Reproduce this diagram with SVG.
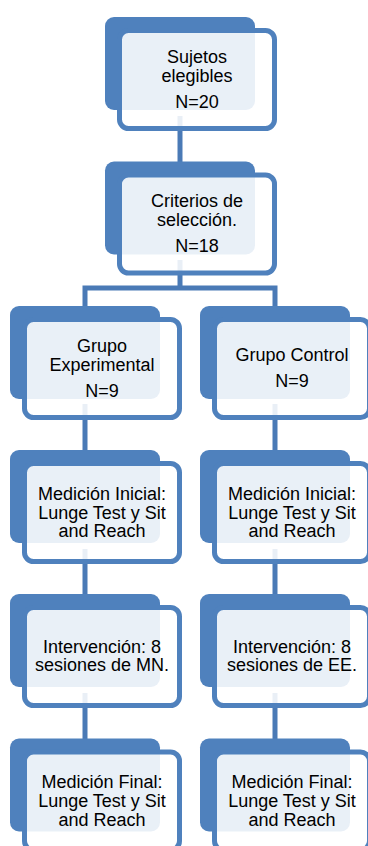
<svg xmlns="http://www.w3.org/2000/svg" width="368" height="846" viewBox="0 0 368 846">
  <style>
    .back { fill: #4f81bd; }
    .front { fill: #ffffff; fill-opacity: 0.88; stroke: #4f81bd; stroke-width: 5; }
    .link { fill: none; stroke: #4a7ab6; stroke-width: 5; stroke-linejoin: miter; }
    text { font-family: "Liberation Sans", Arial, sans-serif; font-size: 18px; fill: #000; text-anchor: middle; }
  </style>
  <rect width="368" height="846" fill="#ffffff"/>

  <!-- connectors -->
  <g id="connectors">
    <path class="link" d="M180 116 V162"/>
    <path class="link" d="M180 260 V288 M85 306 V288 H275 V306"/>
    <path class="link" d="M85 404 V450 M275 404 V450"/>
    <path class="link" d="M85 549 V594 M275 549 V594"/>
    <path class="link" d="M85 693 V739 M275 693 V739"/>
  </g>

  <!-- top column -->
  <g id="sujetos">
    <rect class="back" x="105" y="17" width="150" height="93" rx="9"/>
    <rect class="front" x="119.5" y="30.5" width="155" height="98" rx="9"/>
    <text x="197" y="63.3">Sujetos</text>
    <text x="197" y="81.7">elegibles</text>
    <text x="197" y="108.3">N=20</text>
  </g>
  <g id="criterios">
    <rect class="back" x="105" y="161.5" width="150" height="93" rx="9"/>
    <rect class="front" x="119.5" y="175" width="155" height="98" rx="9"/>
    <text x="197" y="207.3">Criterios de</text>
    <text x="197" y="226">selección.</text>
    <text x="197" y="251.7">N=18</text>
  </g>

  <!-- left column -->
  <g id="grupo-experimental">
    <rect class="back" x="10" y="306" width="150" height="93" rx="9"/>
    <rect class="front" x="24.5" y="319.5" width="155" height="98" rx="9"/>
    <text x="102" y="351.7">Grupo</text>
    <text x="102" y="370.7">Experimental</text>
    <text x="102" y="397.3">N=9</text>
  </g>
  <g id="medicion-inicial-exp">
    <rect class="back" x="10" y="450" width="150" height="93" rx="9"/>
    <rect class="front" x="24.5" y="463.5" width="155" height="98" rx="9"/>
    <text x="102" y="500">Medición Inicial:</text>
    <text x="102" y="518.7">Lunge Test y Sit</text>
    <text x="102" y="537.3">and Reach</text>
  </g>
  <g id="intervencion-exp">
    <rect class="back" x="10" y="594" width="150" height="93" rx="9"/>
    <rect class="front" x="24.5" y="607.5" width="155" height="98" rx="9"/>
    <text x="102" y="652.7">Intervención: 8</text>
    <text x="102" y="671">sesiones de MN.</text>
  </g>
  <g id="medicion-final-exp">
    <rect class="back" x="10" y="738.5" width="150" height="93" rx="9"/>
    <rect class="front" x="24.5" y="752" width="155" height="98" rx="9"/>
    <text x="102" y="788.3">Medición Final:</text>
    <text x="102" y="807.3">Lunge Test y Sit</text>
    <text x="102" y="826">and Reach</text>
  </g>

  <!-- right column -->
  <g id="grupo-control">
    <rect class="back" x="200" y="306" width="150" height="93" rx="9"/>
    <rect class="front" x="214.5" y="319.5" width="155" height="98" rx="9"/>
    <text x="292" y="361">Grupo Control</text>
    <text x="292" y="387.3">N=9</text>
  </g>
  <g id="medicion-inicial-ctl">
    <rect class="back" x="200" y="450" width="150" height="93" rx="9"/>
    <rect class="front" x="214.5" y="463.5" width="155" height="98" rx="9"/>
    <text x="292" y="500">Medición Inicial:</text>
    <text x="292" y="518.7">Lunge Test y Sit</text>
    <text x="292" y="537.3">and Reach</text>
  </g>
  <g id="intervencion-ctl">
    <rect class="back" x="200" y="594" width="150" height="93" rx="9"/>
    <rect class="front" x="214.5" y="607.5" width="155" height="98" rx="9"/>
    <text x="292" y="652.7">Intervención: 8</text>
    <text x="292" y="671">sesiones de EE.</text>
  </g>
  <g id="medicion-final-ctl">
    <rect class="back" x="200" y="738.5" width="150" height="93" rx="9"/>
    <rect class="front" x="214.5" y="752" width="155" height="98" rx="9"/>
    <text x="292" y="788.3">Medición Final:</text>
    <text x="292" y="807.3">Lunge Test y Sit</text>
    <text x="292" y="826">and Reach</text>
  </g>
</svg>
